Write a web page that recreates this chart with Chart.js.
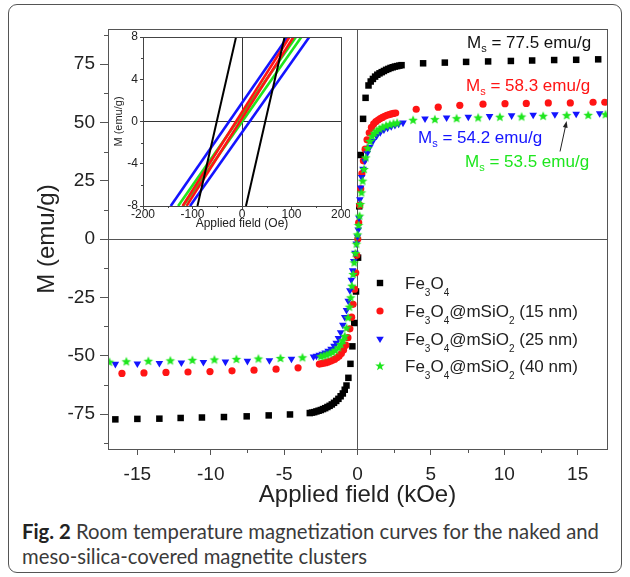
<!DOCTYPE html>
<html>
<head>
<meta charset="utf-8">
<script src="https://cdn.jsdelivr.net/npm/chart.js@4.4.0/dist/chart.umd.min.js"></script>
<style>
  body { margin: 0; background: #fff; }
  #page { position: relative; width: 630px; height: 577px; overflow: hidden; font-family: "Liberation Sans", Arial, sans-serif; color: #222; }
  #frame { position: absolute; left: 8px; top: 4px; width: 614px; height: 569px; border: 1px solid #555; border-radius: 9px; box-sizing: border-box; }
  #mainChart { position: absolute; left: 0; top: 0; }
  #insetChart { position: absolute; left: 100px; top: 25px; }
  .ms { position: absolute; font-size: 17px; line-height: 17px; white-space: nowrap; }
  .ms sub { font-size: 11px; vertical-align: -4px; line-height: 0; }
  .leg { position: absolute; left: 405px; font-size: 17px; line-height: 17px; white-space: nowrap; color: #222; }
  .leg sub { font-size: 10px; vertical-align: -7px; line-height: 0; }
  .mark { position: absolute; left: 374px; width: 12px; height: 12px; }
  #caption { position: absolute; left: 22px; top: 519px; font-family: Lato, "Open Sans", sans-serif; font-size: 20.3px; line-height: 25px; color: #3a3a3a; white-space: nowrap; }
  #caption b { color: #222; }
</style>
</head>
<body>
<div id="page">
  <div id="frame"></div>
  <canvas id="mainChart" width="630" height="510"></canvas>
  <canvas id="insetChart" width="250" height="206"></canvas>

  <div class="ms" style="left:467px; top:34px; color:#111;">M<sub>s</sub> = 77.5 emu/g</div>
  <div class="ms" style="left:466px; top:77px; color:#ff1414;">M<sub>s</sub> = 58.3 emu/g</div>
  <div class="ms" style="left:418px; top:129px; color:#1414ff;">M<sub>s</sub> = 54.2 emu/g</div>
  <div class="ms" style="left:465px; top:153px; color:#1ee61e;">M<sub>s</sub> = 53.5 emu/g</div>

  <svg class="mark" style="top:277px" viewBox="0 0 12 12"><rect x="2.8" y="2.8" width="6.4" height="6.4" fill="#000"/></svg>
  <div class="leg" style="top:275px">Fe<sub>3</sub>O<sub>4</sub></div>
  <svg class="mark" style="top:305px" viewBox="0 0 12 12"><circle cx="6" cy="6" r="3.6" fill="#ff1414"/></svg>
  <div class="leg" style="top:303px">Fe<sub>3</sub>O<sub>4</sub>@mSiO<sub>2</sub> (15 nm)</div>
  <svg class="mark" style="top:333px" viewBox="0 0 12 12"><polygon points="2.2,3.8 9.8,3.8 6,10" fill="#1414ff"/></svg>
  <div class="leg" style="top:331px">Fe<sub>3</sub>O<sub>4</sub>@mSiO<sub>2</sub> (25 nm)</div>
  <svg class="mark" style="top:360px" viewBox="0 0 12 12"><polygon points="6,1.2 7.2,4.6 10.8,4.6 7.9,6.8 9,10.3 6,8.2 3,10.3 4.1,6.8 1.2,4.6 4.8,4.6" fill="#1ee61e"/></svg>
  <div class="leg" style="top:358px">Fe<sub>3</sub>O<sub>4</sub>@mSiO<sub>2</sub> (40 nm)</div>

  <div id="caption"><b>Fig. 2</b> Room temperature magnetization curves for the naked and<br>meso-silica-covered magnetite clusters</div>
</div>

<script>
// M-H sweeps, field in kOe, magnetization in emu/g
const fe3o4 = [
  [-16.5, -77.3], [-15.0, -77.1], [-13.5, -77.0], [-12.05, -76.7], [-10.6, -76.5], [-9.1, -76.3],
  [-7.55, -76.0], [-6.05, -75.6], [-4.6, -75.2],
  [-3.25, -74.6], [-3.1, -74.4], [-2.95, -74.2], [-2.8, -73.9], [-2.65, -73.6], [-2.5, -73.3],
  [-2.35, -72.9], [-2.2, -72.5], [-2.05, -72.0], [-1.9, -71.5], [-1.75, -70.9], [-1.6, -70.2],
  [-1.45, -69.4], [-1.3, -68.5], [-1.15, -67.4], [-1.0, -66.2], [-0.87, -64.6], [-0.75, -62.8],
  [-0.62, -59.5], [-0.48, -53.5], [-0.35, -46.0], [-0.22, -36.0], [-0.1, -22.5], [0.04, -8.0],
  [0.12, 14.0], [0.22, 36.0], [0.38, 51.5], [0.55, 60.5], [0.75, 65.8], [0.9, 67.5], [1.05, 68.6],
  [1.2, 69.6], [1.35, 70.4], [1.5, 71.0], [1.65, 71.5], [1.8, 72.0], [1.95, 72.5], [2.1, 72.9],
  [2.25, 73.3], [2.4, 73.6], [2.55, 73.9], [2.7, 74.1], [2.85, 74.3], [3.0, 74.5],
  [4.47, 75.3], [5.95, 75.6], [7.4, 75.9], [8.9, 76.1], [10.45, 76.3], [11.9, 76.5], [13.4, 76.7],
  [14.9, 76.8], [16.4, 77.0]
];
const silica15 = [
  [-16.05, -57.6], [-14.55, -57.4], [-13.05, -57.2], [-11.55, -57.0], [-10.05, -56.8], [-8.55, -56.5],
  [-7.05, -56.2], [-5.55, -55.8], [-4.05, -55.2],
  [-2.6, -53.6], [-2.45, -53.4], [-2.3, -53.2], [-2.15, -53.0], [-2.0, -52.7], [-1.85, -52.4],
  [-1.7, -52.0], [-1.55, -51.5], [-1.4, -50.9], [-1.25, -50.1], [-1.1, -49.1], [-0.95, -47.6],
  [-0.8, -45.5], [-0.65, -42.3], [-0.52, -38.5], [-0.4, -33.5], [-0.3, -28.0], [-0.2, -21.5],
  [-0.12, -14.5], [-0.05, -7.0], [0.02, 0.0], [0.08, 7.0], [0.15, 14.5], [0.22, 21.5], [0.3, 28.0],
  [0.4, 33.5], [0.52, 38.5], [0.65, 42.5], [0.8, 45.5], [0.95, 47.8], [1.1, 49.3], [1.25, 50.3],
  [1.4, 51.0], [1.55, 51.6], [1.7, 52.1], [1.85, 52.6], [2.0, 53.0], [2.15, 53.3], [2.3, 53.6],
  [2.45, 53.8], [2.6, 54.0],
  [4.0, 55.6], [5.5, 56.5], [6.97, 57.3], [8.55, 57.8], [10.05, 58.0], [11.5, 58.1], [13.0, 58.3],
  [14.5, 58.3], [16.05, 58.6], [16.85, 58.6]
];
const silica25 = [
  [-16.5, -53.6], [-15.0, -53.4], [-13.5, -53.2], [-12.0, -53.0], [-10.5, -52.8], [-9.0, -52.6],
  [-7.5, -52.3], [-6.0, -52.0], [-4.5, -51.4],
  [-3.0, -50.4], [-2.8, -50.1], [-2.6, -49.7], [-2.4, -49.3], [-2.2, -48.7], [-2.0, -48.0],
  [-1.8, -47.1], [-1.6, -45.8], [-1.45, -44.5], [-1.3, -42.5], [-1.15, -40.0], [-1.0, -36.8],
  [-0.87, -33.5], [-0.75, -30.5], [-0.63, -26.5], [-0.52, -22.0], [-0.42, -17.5], [-0.33, -13.5],
  [-0.25, -9.5], [-0.17, -6.0], [-0.08, -2.0], [0.0, 1.0], [0.05, 4.0], [0.1, 9.0], [0.16, 17.0],
  [0.22, 22.0], [0.28, 26.5], [0.38, 30.0], [0.5, 33.5], [0.66, 36.8], [0.84, 39.5], [1.05, 42.0],
  [1.3, 44.2], [1.55, 45.7], [1.8, 46.9], [2.05, 47.6], [2.3, 48.3], [2.55, 48.8], [2.8, 49.3],
  [3.1, 49.8],
  [4.6, 51.6], [6.07, 52.0], [7.55, 52.3], [9.0, 52.6], [10.5, 52.9], [11.97, 53.2], [13.45, 53.4],
  [14.9, 53.6], [16.5, 53.8]
];
const silica40 = [
  [-16.9, -52.6], [-15.75, -52.4], [-14.25, -52.2], [-12.75, -52.0], [-11.25, -51.8], [-9.75, -51.6],
  [-8.25, -51.4], [-6.75, -51.2], [-5.25, -51.0], [-3.75, -50.7],
  [-2.5, -50.2], [-2.3, -49.9], [-2.1, -49.5], [-1.9, -49.0], [-1.7, -48.4], [-1.5, -47.6],
  [-1.3, -46.4], [-1.15, -45.0], [-1.0, -43.3], [-0.87, -41.5], [-0.75, -38.0], [-0.64, -33.6],
  [-0.55, -29.0], [-0.46, -25.0], [-0.38, -20.0], [-0.3, -15.0], [-0.22, -10.0], [-0.14, -6.0],
  [-0.07, -2.0], [0.0, 2.0], [0.07, 6.0], [0.14, 10.0], [0.2, 15.0], [0.27, 20.0], [0.35, 25.0],
  [0.45, 30.0], [0.56, 35.0], [0.7, 39.0], [0.84, 42.0], [1.0, 44.2], [1.15, 45.5], [1.3, 46.4],
  [1.5, 47.3], [1.7, 48.0], [1.95, 48.7], [2.2, 49.2], [2.45, 49.6], [2.7, 49.9],
  [3.79, 51.1], [5.27, 51.4], [6.75, 51.8], [8.22, 52.1], [9.7, 52.4], [11.18, 52.5], [12.65, 52.8],
  [14.25, 53.1], [15.72, 53.2], [16.9, 53.5]
];

// low-field loops for the inset, field in Oe (two branches each)
const loopFe3o4 = [[[-90, -8], [-12, 8]], [[8, -8], [86, 8]]];
const loop15 = [[[-120, -8], [96, 8]], [[-112, -8], [104, 8]]];
const loop25 = [[[-144, -8], [92, 8]], [[-105, -8], [136, 8]]];
const loop40 = [[[-129, -8], [109, 8]], [[-119, -8], [120, 8]]];

// arrow from the 40 nm label to its plateau
const arrowTail = [13.8, 37.5];
const arrowHead = [14.25, 53.1];

const fontFamily = '"Liberation Sans", Arial, sans-serif';
const toPoints = arr => arr.map(([x, y]) => ({ x, y }));

function makeStar(color, r) {
  const c = document.createElement('canvas');
  c.width = c.height = Math.ceil(r * 2) + 2;
  const g = c.getContext('2d');
  g.translate(c.width / 2, c.height / 2 + 0.5);
  g.beginPath();
  for (let i = 0; i < 10; i++) {
    const rad = i % 2 ? r * 0.45 : r;
    const a = -Math.PI / 2 + i * Math.PI / 5;
    g.lineTo(Math.cos(a) * rad, Math.sin(a) * rad);
  }
  g.closePath();
  g.fillStyle = color;
  g.fill();
  return c;
}

// box round the plot, minor ticks, optional arrow
const frameBox = {
  id: 'frameBox',
  afterDraw(chart, args, o) {
    const { ctx, chartArea: a, scales: { x, y } } = chart;
    ctx.save();
    ctx.strokeStyle = o.color;
    ctx.lineWidth = 1;
    ctx.strokeRect(Math.round(a.left) + 0.5, Math.round(a.top) + 0.5,
      Math.round(a.right - a.left), Math.round(a.bottom - a.top));

    ctx.beginPath();
    for (let v = Math.ceil(x.min / o.xMinor) * o.xMinor; v <= x.max; v += o.xMinor) {
      if (Math.abs(v / o.xMajor - Math.round(v / o.xMajor)) < 1e-6) continue;
      const px = Math.round(x.getPixelForValue(v)) + 0.5;
      ctx.moveTo(px, a.bottom);
      ctx.lineTo(px, a.bottom + o.minorLen);
    }
    for (let v = Math.ceil(y.min / o.yMinor) * o.yMinor; v <= y.max; v += o.yMinor) {
      if (Math.abs(v / o.yMajor - Math.round(v / o.yMajor)) < 1e-6) continue;
      const py = Math.round(y.getPixelForValue(v)) + 0.5;
      ctx.moveTo(a.left, py);
      ctx.lineTo(a.left - o.minorLen, py);
    }
    ctx.stroke();

    if (o.arrow) {
      const x0 = x.getPixelForValue(o.arrow.from[0]), y0 = y.getPixelForValue(o.arrow.from[1]);
      const x1 = x.getPixelForValue(o.arrow.to[0]), y1 = y.getPixelForValue(o.arrow.to[1]) + 6;
      const ang = Math.atan2(y1 - y0, x1 - x0);
      ctx.strokeStyle = '#222';
      ctx.fillStyle = '#222';
      ctx.beginPath();
      ctx.moveTo(x0, y0);
      ctx.lineTo(x1 - Math.cos(ang) * 4, y1 - Math.sin(ang) * 4);
      ctx.stroke();
      ctx.beginPath();
      ctx.moveTo(x1, y1);
      ctx.lineTo(x1 - Math.cos(ang - 0.35) * 7, y1 - Math.sin(ang - 0.35) * 7);
      ctx.lineTo(x1 - Math.cos(ang + 0.35) * 7, y1 - Math.sin(ang + 0.35) * 7);
      ctx.closePath();
      ctx.fill();
    }
    ctx.restore();
  }
};

const zeroGrid = (col) => ctx => (ctx.tick && ctx.tick.value === 0 ? col : 'rgba(0,0,0,0)');

new Chart(document.getElementById('mainChart'), {
  type: 'scatter',
  data: {
    datasets: [
      { label: 'Fe3O4', data: toPoints(fe3o4), pointStyle: 'rect', pointRadius: 4.6,
        backgroundColor: '#000', borderColor: '#000', borderWidth: 0, order: 4 },
      { label: 'Fe3O4@mSiO2 (15 nm)', data: toPoints(silica15), pointStyle: 'circle', pointRadius: 3.6,
        backgroundColor: '#ff1414', borderColor: '#ff1414', borderWidth: 0, order: 3 },
      { label: 'Fe3O4@mSiO2 (25 nm)', data: toPoints(silica25), pointStyle: 'triangle', pointRotation: 180,
        pointRadius: 4.4, backgroundColor: '#1414ff', borderColor: '#1414ff', borderWidth: 0, order: 2 },
      { label: 'Fe3O4@mSiO2 (40 nm)', data: toPoints(silica40), pointStyle: makeStar('#1ee61e', 5),
        pointRadius: 5, backgroundColor: '#1ee61e', borderWidth: 0, order: 1 }
    ]
  },
  options: {
    responsive: false,
    animation: false,
    layout: { padding: { top: 29, right: 23, left: 0, bottom: 0 } },
    plugins: {
      legend: { display: false },
      tooltip: { enabled: false },
      frameBox: { color: '#555', xMinor: 2.5, xMajor: 5, yMinor: 12.5, yMajor: 25, minorLen: 4,
        arrow: { from: arrowTail, to: arrowHead } }
    },
    scales: {
      x: {
        type: 'linear', min: -17, max: 17,
        afterFit: s => { s.height = 61; },
        ticks: { stepSize: 5, includeBounds: false, color: '#222', padding: 8,
          font: { family: fontFamily, size: 19 } },
        grid: { color: zeroGrid('#555'), tickColor: '#555', tickLength: 6, lineWidth: 1 },
        border: { display: true, color: '#555', width: 1 },
        title: { display: true, text: 'Applied field (kOe)', color: '#222', padding: 0,
          font: { family: fontFamily, size: 24 } }
      },
      y: {
        type: 'linear', min: -90, max: 90,
        afterFit: s => { s.width = 108; },
        ticks: { stepSize: 25, includeBounds: false, color: '#222', padding: 5,
          font: { family: fontFamily, size: 19 } },
        grid: { color: zeroGrid('#555'), tickColor: '#555', tickLength: 8, lineWidth: 1 },
        border: { display: true, color: '#555', width: 1 },
        title: { display: true, text: 'M (emu/g)', color: '#222', padding: { top: 33, bottom: 0 },
          font: { family: fontFamily, size: 24 } }
      }
    }
  },
  plugins: [frameBox]
});

const loopSets = [
  [loopFe3o4, '#000', 2], [loop15, '#ff1414', 2.6], [loop40, '#1ee61e', 2.6], [loop25, '#1414ff', 2.6]
];
const insetData = [];
loopSets.forEach(([branches, color, w]) => {
  branches.forEach(b => insetData.push({
    data: toPoints(b), showLine: true, pointRadius: 0, borderColor: color, borderWidth: w
  }));
});

new Chart(document.getElementById('insetChart'), {
  type: 'scatter',
  data: { datasets: insetData },
  options: {
    responsive: false,
    animation: false,
    layout: { padding: { top: 12, right: 9, left: 0, bottom: 0 } },
    plugins: {
      legend: { display: false },
      tooltip: { enabled: false },
      frameBox: { color: '#444', xMinor: 50, xMajor: 100, yMinor: 2, yMajor: 4, minorLen: 2 }
    },
    scales: {
      x: {
        type: 'linear', min: -200, max: 200,
        afterFit: s => { s.height = 25; },
        ticks: { stepSize: 100, includeBounds: false, color: '#222', padding: -2,
          font: { family: fontFamily, size: 12 } },
        grid: { color: zeroGrid('#333'), tickColor: '#444', tickLength: 3, lineWidth: 1 },
        border: { display: true, color: '#444', width: 1 },
        title: { display: true, text: 'Applied field (Oe)', color: '#222', padding: 0,
          font: { family: fontFamily, size: 12 } }
      },
      y: {
        type: 'linear', min: -8, max: 8,
        afterFit: s => { s.width = 43; },
        ticks: { stepSize: 4, includeBounds: false, color: '#222', padding: 2,
          font: { family: fontFamily, size: 12 } },
        grid: { color: zeroGrid('#333'), tickColor: '#444', tickLength: 3, lineWidth: 1 },
        border: { display: true, color: '#444', width: 1 },
        title: { display: true, text: 'M (emu/g)', color: '#222', padding: { top: 12, bottom: 0 },
          font: { family: fontFamily, size: 11 } }
      }
    }
  },
  plugins: [frameBox]
});
</script>
</body>
</html>
